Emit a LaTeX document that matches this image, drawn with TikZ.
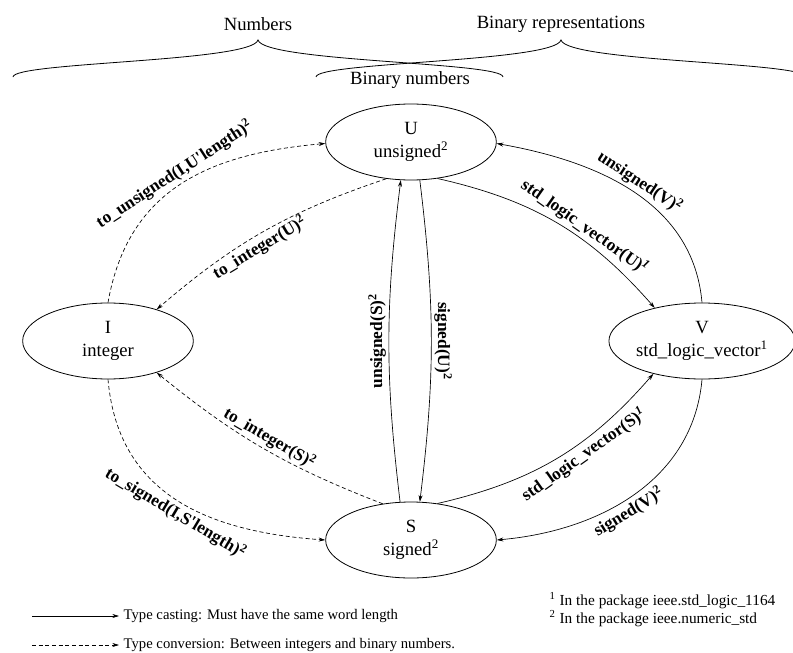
\documentclass[tikz,border=0pt]{standalone}
\usepackage{fontspec}
\setmainfont{Liberation Serif}
\usetikzlibrary{shapes.geometric,arrows.meta}

\begin{document}
\begin{tikzpicture}[x=0.75pt, y=0.75pt,
    typebox/.style={ellipse, draw, line width=0.6pt, minimum width=128pt, minimum height=57pt,
      inner sep=0pt, align=center, font=\fontsize{14}{17}\selectfont},
    cast/.style={line width=0.5pt, -{Stealth[length=5pt,width=3pt]}},
    conv/.style={cast, dash pattern=on 3pt off 2pt},
    lbl/.style={font=\fontsize{13}{15}\selectfont\bfseries, inner sep=2pt},
    group/.style={font=\fontsize{14}{16}\selectfont},
    note/.style={font=\fontsize{11}{13.5}\selectfont, anchor=west}]
\useasboundingbox (0,0) rectangle (793,-653);
\clip (0,0) rectangle (793,-653);

% groups
\node[group] (numbers) at (258,-24) {Numbers};
\node[group] (binrep) at (561,-24) {Binary representations};
\node[group] (binnum) at (410,-80) {Binary numbers};
\draw[line width=0.6pt] (13,-77) .. controls (13,-62) and (252,-62) .. (258,-40)
  .. controls (264,-62) and (503,-62) .. (503,-77);
\draw[line width=0.6pt] (316,-77) .. controls (316,-62) and (555,-62) .. (561,-40)
  .. controls (567,-62) and (806,-62) .. (806,-77);

% the four types
\node[typebox] (U) at (411,-142) {U\\unsigned\textsuperscript{2}};
\node[typebox] (I) at (108,-341) {I\\integer};
\node[typebox] (V) at (702,-341) {V\\std\_logic\_vector\textsuperscript{1}};
\node[typebox] (S) at (411,-540) {S\\signed\textsuperscript{2}};

% conversions
\draw[conv] (I.90) to[out=80, in=185, looseness=1.1]
  node[lbl, sloped, pos=0.5, above] {to\_unsigned(I,U\textquotesingle length)\textsuperscript{2}} (U.181);
\draw[conv] (U.-124) to[bend right=11]
  node[lbl, sloped, pos=0.55, below] {to\_integer(U)\textsuperscript{2}} (I.33);
\draw[conv] (S.128) to[bend left=9]
  node[lbl, sloped, pos=0.5, above] {to\_integer(S)\textsuperscript{2}} (I.-33);
\draw[conv] (I.-90) to[out=-85, in=176, looseness=1.1]
  node[lbl, sloped, pos=0.52, below] {to\_signed(I,S\textquotesingle length)\textsuperscript{2}} (S.180);

% castings
\draw[cast] (U.-77) to[bend left=7]
  node[lbl, rotate=-90, anchor=south] {signed(U)\textsuperscript{2}} (S.77);
\draw[cast] (S.106) to[bend left=7]
  node[lbl, rotate=90, anchor=south] {unsigned(S)\textsuperscript{2}} (U.-105);
\draw[cast] (U.-54) to[bend left=18]
  node[lbl, sloped, pos=0.6, above] {std\_logic\_vector(U)\textsuperscript{\itshape 1}} (V.145);
\draw[cast] (V.90) to[out=95, in=-10]
  node[lbl, sloped, pos=0.5, above] {unsigned(V)\textsuperscript{2}} (U.-1);
\draw[cast] (S.54) to[bend right=18]
  node[lbl, sloped, pos=0.6, below] {std\_logic\_vector(S)\textsuperscript{\itshape 1}} (V.-146);
\draw[cast] (V.-90) to[out=-95, in=5]
  node[lbl, sloped, pos=0.55, below] {signed(V)\textsuperscript{2}} (S.0);

% legend
\coordinate (castA) at (32,-616);
\coordinate (convA) at (32,-645);
\node[note] (casttxt) at (119,-616) {Type casting: Must have the same word length};
\node[note] (convtxt) at (119,-645) {Type conversion: Between integers and binary numbers.};
\draw[cast] (castA) -- (casttxt.west);
\draw[conv] (convA) -- (convtxt.west);
\node[note, align=left, font=\fontsize{11.5}{13.5}\selectfont] (notes) at (545,-610)
  {\textsuperscript{1} In the package ieee.std\_logic\_1164\\
   \textsuperscript{2} In the package ieee.numeric\_std};
\end{tikzpicture}
\end{document}
